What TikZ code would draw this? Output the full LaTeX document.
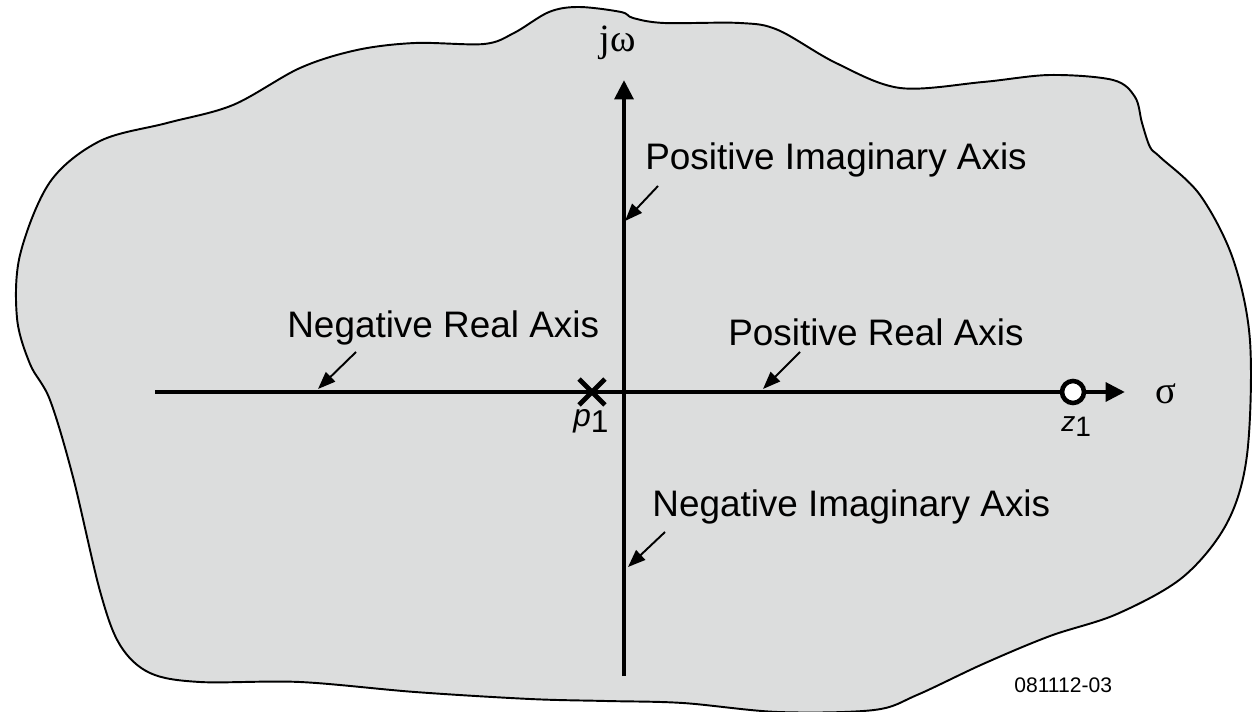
\documentclass[tikz,border=0pt]{standalone}
\usepackage{fontspec}
\setmainfont{Liberation Sans}
\newfontfamily\grfont{Liberation Serif}
\usetikzlibrary{arrows.meta,shapes.misc}
\definecolor{planegray}{RGB}{220,221,221}
\begin{document}
\begin{tikzpicture}[x=0.02cm,y=-0.02cm,
  outline/.style={line width=1.1pt,fill=planegray,line join=round},
  axis/.style={line width=2.6pt,-{Triangle[length=11pt,width=10.5pt]}},
  callout/.style={line width=1.1pt,-{Triangle[length=10pt,width=7.5pt]}},
  lbl/.style={font=\fontsize{21}{25}\selectfont,inner sep=0pt,anchor=base west},
  sym/.style={font=\grfont\fontsize{22}{26}\selectfont,inner sep=0pt},
  sub/.style={font=\fontsize{18}{20}\selectfont,inner sep=0pt,anchor=base west},
  pole/.style={cross out,draw,line width=2.8pt,minimum size=0.42cm,inner sep=0pt},
  zero/.style={circle,draw,line width=2.6pt,fill=white,minimum size=0.44cm,inner sep=0pt}]
\useasboundingbox (0,0) rectangle (1253,712);
% s-plane region
\draw[outline] plot[smooth cycle,tension=0.55] coordinates {
 (579,7) (621,12) (633,18) (664,23) (740,23) (778,30) (836,63) (900,88)
 (983,82) (1050,75) (1113,80) (1135,97) (1142,123) (1150,147) (1160,157)
 (1200,195) (1233,259) (1250,341) (1247,455) (1227,523) (1183,577)
 (1117,614) (1050,636) (983,664) (917,695) (874,710) (778,712) (683,703)
 (606,701) (530,699) (415,692) (300,682) (200,682) (150,673) (120,645)
 (100,591) (73,477) (50,400) (30,364) (17,318) (20,255) (50,182)
 (100,141) (167,123) (233,105) (300,68) (357,50) (415,43) (484,44)
 (514,33) (549,12)};
% axes
\coordinate (xstart) at (155,392);
\coordinate (xend) at (1125,392);
\coordinate (ybot) at (624,676);
\coordinate (ytop) at (624,80);
\draw[axis] (xstart) -- (xend);
\draw[axis] (ybot) -- (ytop);
\node[sym,anchor=base] (jw) at (618,52) {jω};
\node[sym] (sigma) at (1166,394) {σ};
% pole and zero
\node[pole] (p1) at (592,392) {};
\node[zero] (z1) at (1073,392) {};
\node[sub] (p1lbl) at (573,426) {\textit{p}\raisebox{-3.8pt}{1}};
\node[sub,font=\fontsize{16}{18}\selectfont] (z1lbl) at (1061,431) {\textit{z}\raisebox{-3.2pt}{1}};
% labels
\node[lbl] (pia) at (645,170) {Positive Imaginary Axis};
\node[lbl] (nra) at (287,338) {Negative Real Axis};
\node[lbl] (pra) at (728,346) {Positive Real Axis};
\node[lbl] (nia) at (652,516) {Negative Imaginary Axis};
\node[font=\fontsize{12}{14}\selectfont,inner sep=0pt,anchor=base west] (code) at (1014,692) {081112-03};
% callout arrows
\coordinate (piaS) at (658,186);
\coordinate (piaT) at (625,221);
\coordinate (nraS) at (356,352);
\coordinate (nraT) at (318,389);
\coordinate (praS) at (800,352);
\coordinate (praT) at (763,389);
\coordinate (niaS) at (665,532);
\coordinate (niaT) at (628,567);
\draw[callout] (piaS) -- (piaT);
\draw[callout] (nraS) -- (nraT);
\draw[callout] (praS) -- (praT);
\draw[callout] (niaS) -- (niaT);
\end{tikzpicture}
\end{document}
